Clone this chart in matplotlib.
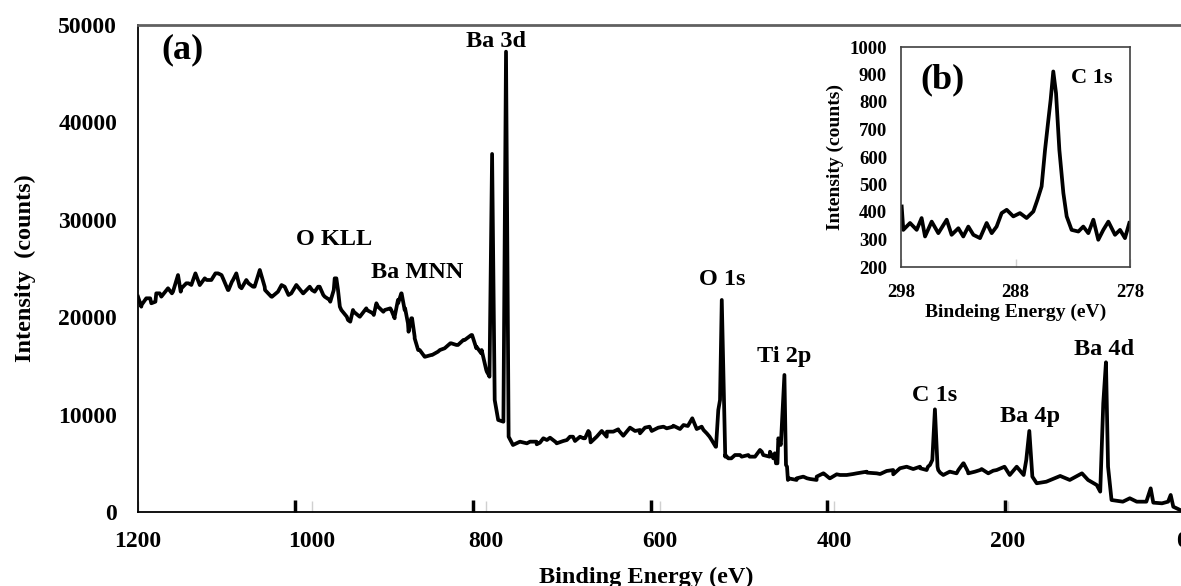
import numpy as np
import matplotlib
matplotlib.use("Agg")
import matplotlib.pyplot as plt

plt.rcParams['font.family'] = ['Liberation Serif', 'DejaVu Serif']
plt.rcParams['font.weight'] = 'bold'

# survey spectrum (a), first reading off the picture
ev_read1 = [1200, 1196, 1186, 1180, 1175, 1167, 1161, 1154, 1150, 1142, 1134, 1129, 1121, 1111,
            1104, 1096, 1092, 1087, 1081, 1073, 1066, 1060, 1054, 1046, 1035, 1027, 1018, 1010,
            1000, 993, 987, 979, 975, 972, 968, 960, 956, 952, 945, 937, 929, 926, 918, 910,
            905, 901, 897, 893, 889, 885, 882, 878, 870, 862, 853, 841, 834, 826, 816, 811,
            805, 799, 796, 793, 790, 786, 780, 777, 774, 769, 761, 753, 742, 738, 730, 719,
            707, 700, 688, 681, 671, 661, 648, 635, 623, 612, 596, 585, 573, 568, 563, 558,
            550, 543, 536, 533, 531, 529, 526, 525, 518, 508, 497, 483, 474, 468, 465, 463,
            461, 457, 454, 453, 443, 431, 420, 412, 405, 393, 378, 362, 347, 332, 317, 301,
            292, 287, 284, 281, 278, 267, 257, 251, 246, 232, 217, 204, 198, 190, 182, 179,
            175.5, 172, 167, 156, 140, 129, 115, 108, 98, 94, 90.5, 87.4, 85, 81, 68, 60,
            52, 41, 36, 33, 23, 16, 13, 10, 2]
counts_read1 = [22100, 21250, 21940, 21590, 22450, 22790, 22450, 24330, 22970, 23480, 24500, 23300,
                23820, 24500, 24330, 22790, 23650, 24500, 22970, 23480, 23130, 24850, 22790, 22100,
                23300, 22280, 23300, 22450, 22790, 23130, 22280, 21590, 22790, 23990, 21080, 20050,
                19540, 20560, 20050, 20740, 20230, 21430, 20560, 20910, 19890, 21430, 22450, 20910,
                18510, 19890, 18000, 16630, 15940, 16120, 16630, 17320, 17150, 17660, 18170, 16970,
                16630, 14400, 13890, 36760, 11500, 9450, 9270, 47260, 7730, 6880, 7220, 7050,
                7220, 7120, 7390, 7120, 7390, 7730, 7570, 8140, 7910, 8250, 8490, 8590,
                8420, 8760, 8760, 8760, 8930, 8830, 9620, 8590, 8420, 7730, 6700, 10470,
                11500, 21770, 9450, 5680, 5510, 5850, 5680, 6190, 5680, 6030, 5000, 7390,
                7050, 14070, 4650, 3290, 3290, 3460, 3290, 3970, 3460, 3800, 3900, 4040,
                3900, 4310, 4650, 4490, 4650, 5340, 10540, 4650, 4040, 4140, 4310, 5000,
                4140, 4310, 4240, 4650, 3800, 4650, 3800, 5340, 8320, 3630, 2950, 3110,
                3700, 3290, 3970, 3290, 2770, 2090, 11160, 15370, 4650, 1230, 1060, 1410,
                1060, 1060, 2430, 960, 890, 1060, 1750, 540, 200]

# second, closer reading of the noisy background
ev_read2 = [1196.2, 1190.5, 1184.7, 1179.0, 1173.2, 1165.5, 1159.8, 1154.0, 1150.9, 1144.5, 1138.7,
            1134.1, 1129.1, 1123.3, 1115.7, 1108.0, 1102.3, 1096.6, 1090.8, 1087.0, 1083.1, 1075.5,
            1067.8, 1060.1, 1054.4, 1046.8, 1039.1, 1031.4, 1023.8, 1018.0, 1010.3, 1002.6, 996.9,
            991.2, 985.4, 979.7, 973.9, 970.1, 966.3, 958.6, 952.9, 945.2, 937.6, 929.9, 924.1,
            916.4, 908.9, 905.0, 901.2, 897.4, 893.5, 889.7, 885.9, 882.0, 876.2, 870.5, 862.9,
            855.2, 847.5, 839.9, 832.2, 824.5, 816.9, 811.1, 805.4, 799.7, 796.9,
            749.4, 741.7, 734.1, 726.4, 718.8, 711.2, 703.5, 697.7, 691.9, 686.2, 682.4, 679.7,
            672.8, 667.0, 661.3, 653.7, 647.9, 642.2, 634.5, 628.7, 623.0, 617.3, 609.5, 602.0,
            592.3, 584.7, 577.0, 569.3, 562.9, 557.8, 552.1, 546.3, 540.6, 535.6,
            524.9, 521.5, 513.8, 506.1, 498.5, 490.8, 485.1, 481.3, 473.6, 469.8, 466.7, 464.0,
            461.3, 455.2, 452.5, 442.9, 435.3, 427.6, 419.9, 412.3, 404.6, 396.9, 385.4, 373.9,
            362.4, 350.9, 339.5, 331.9, 324.2, 316.5, 308.9, 301.2, 293.5, 289.7, 280.2, 274.4,
            266.7, 259.1, 251.4, 245.7, 238.0, 230.3, 222.7, 213.0]
counts_read2 = [21080, 21940, 21430, 22450, 22110, 22970, 22620, 24330, 22620, 23480, 23310,
                24500, 23310, 23990, 23820, 24500, 23990, 22790, 23820, 24500, 23130, 23820,
                23130, 24850, 23130, 22110, 22620, 23130, 22450, 23310, 22450, 23130, 22620,
                23130, 22110, 21770, 23990, 22790, 20740, 19710, 20740, 20050, 20910, 20400, 21080,
                20740, 20740, 20050, 21770, 22450, 20740, 19370, 19890, 17830, 16630, 15940, 16120,
                16460, 16810, 17320, 17150, 17660, 18170, 16810, 16290, 14580, 14070,
                7220, 6950, 7570, 7630, 7050, 7290, 7730, 7290, 7730, 7570, 8320, 7150,
                7730, 8320, 7730, 8250, 8420, 7830, 8660, 8320, 8080, 8660, 8320, 8660,
                8590, 8860, 8520, 8860, 9620, 8520, 8760, 8080, 7390, 6700,
                5850, 5510, 5850, 5680, 5850, 5680, 6370, 5850, 6190, 5510, 5000, 7570,
                6880, 4830, 3460, 3460, 3630, 3390, 3630, 3970, 3460, 3870, 3800, 3970,
                4140, 3970, 4210, 3870, 4490, 4650, 4410, 4650, 4310, 4830, 4310, 3800,
                4140, 3970, 5000, 3970, 4140, 4410, 3970, 4310]

# C 1s detail (b)
c1s_ev = [297.94, 297.8, 297.21, 296.63, 296.2, 295.9, 295.32, 294.74, 294.01, 293.58, 292.99,
          292.56, 292.12, 291.68, 291.1, 290.52, 290.08, 289.65, 289.21, 288.77, 288.19, 287.61,
          287.03, 286.44, 286.09, 285.72, 285.42, 285.13, 284.93, 284.7, 284.46, 284.17, 283.82,
          283.53, 283.1, 282.51, 282.08, 281.64, 281.2, 280.77, 280.33, 279.89, 279.31, 278.87,
          278.44, 278.06]
c1s_counts = [420, 335, 360, 335, 378, 311, 365, 323, 372, 317, 341,
              311, 347, 317, 305, 360, 323, 347, 396, 408, 384, 396,
              378, 402, 444, 493, 626, 735, 808, 911, 832, 626, 469,
              384, 335, 329, 347, 323, 372, 299, 335, 365, 317, 335,
              305, 360]

peak_names = ['Ba 3d', 'O KLL', 'Ba MNN', 'O 1s', 'Ti 2p', 'C 1s', 'Ba 4p', 'Ba 4d']
peak_label_x = [789, 975, 879, 529, 457, 284, 175, 90]
peak_label_y = [47750, 27410, 23990, 23310, 15430, 11430, 9270, 16120]

# merge both readings, high to low energy
ev_all = np.array(ev_read1 + ev_read2)
counts_all = np.array(counts_read1 + counts_read2)
order = np.argsort(-ev_all, kind='stable')

fig = plt.figure(figsize=(11.81, 5.86), dpi=100)
ax = fig.add_axes([138 / 1181, 1 - 512 / 586, 1044 / 1181, 487 / 586])
ax.plot(ev_all[order], counts_all[order], color='black', lw=2.7, solid_joinstyle='round')
ax.set_xlim(1200, 0)
ax.set_ylim(0, 50000)
ax.set_xticks(range(0, 1201, 200))
ax.set_yticks(range(0, 50001, 10000))
ax.set_xticks([1020, 815, 610, 408, 203], minor=True)
ax.tick_params(axis='x', which='major', direction='in', length=8, width=1, color='#d0d0d0',
               pad=14, labelsize=17)
ax.tick_params(axis='x', which='minor', direction='in', length=9, width=2.5, color='black')
ax.tick_params(axis='y', length=0, pad=15, labelsize=17)
for lab in ax.get_xticklabels() + ax.get_yticklabels():
    lab.set_fontweight('bold')
ax.spines['right'].set_visible(False)
ax.spines['top'].set_color('#606060')
ax.spines['top'].set_linewidth(2)
ax.spines['left'].set_linewidth(1.3)
ax.spines['bottom'].set_linewidth(1.3)
ax.set_xlabel('Binding Energy (eV)', fontsize=17.5, fontweight='bold')
ax.set_ylabel('Intensity  (counts)', fontsize=17.5, fontweight='bold')
ax.xaxis.set_label_coords(0.4866, -0.113)
ax.yaxis.set_label_coords(-0.098, 0.5)
ax.text(1149, 46610, '(a)', fontsize=26, fontweight='bold', ha='center', va='baseline')
for name, x, y in zip(peak_names, peak_label_x, peak_label_y):
    ax.text(x, y, name, fontsize=17.5, fontweight='bold', ha='center', va='baseline')

# inset
ins = fig.add_axes([901 / 1181, 1 - 267 / 586, 229 / 1181, 220 / 586])
ins.plot(c1s_ev, c1s_counts, color='black', lw=2.7, solid_joinstyle='round')
ins.set_xlim(298, 278)
ins.set_ylim(200, 1000)
ins.set_xticks([298, 288, 278])
ins.set_yticks(range(200, 1001, 100))
ins.tick_params(axis='x', direction='in', length=6, width=1, color='#d0d0d0', pad=12, labelsize=13.5)
ins.tick_params(axis='y', length=0, pad=10, labelsize=13.5)
for lab in ins.get_xticklabels() + ins.get_yticklabels():
    lab.set_fontweight('bold')
for sp in ins.spines.values():
    sp.set_color('#404040')
    sp.set_linewidth(1.2)
ins.set_xlabel('Bindeing Energy (eV)', fontsize=14, fontweight='bold')
ins.set_ylabel('Intensity (counts)', fontsize=14, fontweight='bold')
ins.xaxis.set_label_coords(0.5, -0.165)
ins.yaxis.set_label_coords(-0.25, 0.5)
ins.text(0.18, 0.81, '(b)', transform=ins.transAxes, fontsize=26, fontweight='bold',
         ha='center', va='baseline')
ins.text(0.834, 0.836, 'C 1s', transform=ins.transAxes, fontsize=16, fontweight='bold',
         ha='center', va='baseline')

fig.savefig('out.png', dpi=100)
